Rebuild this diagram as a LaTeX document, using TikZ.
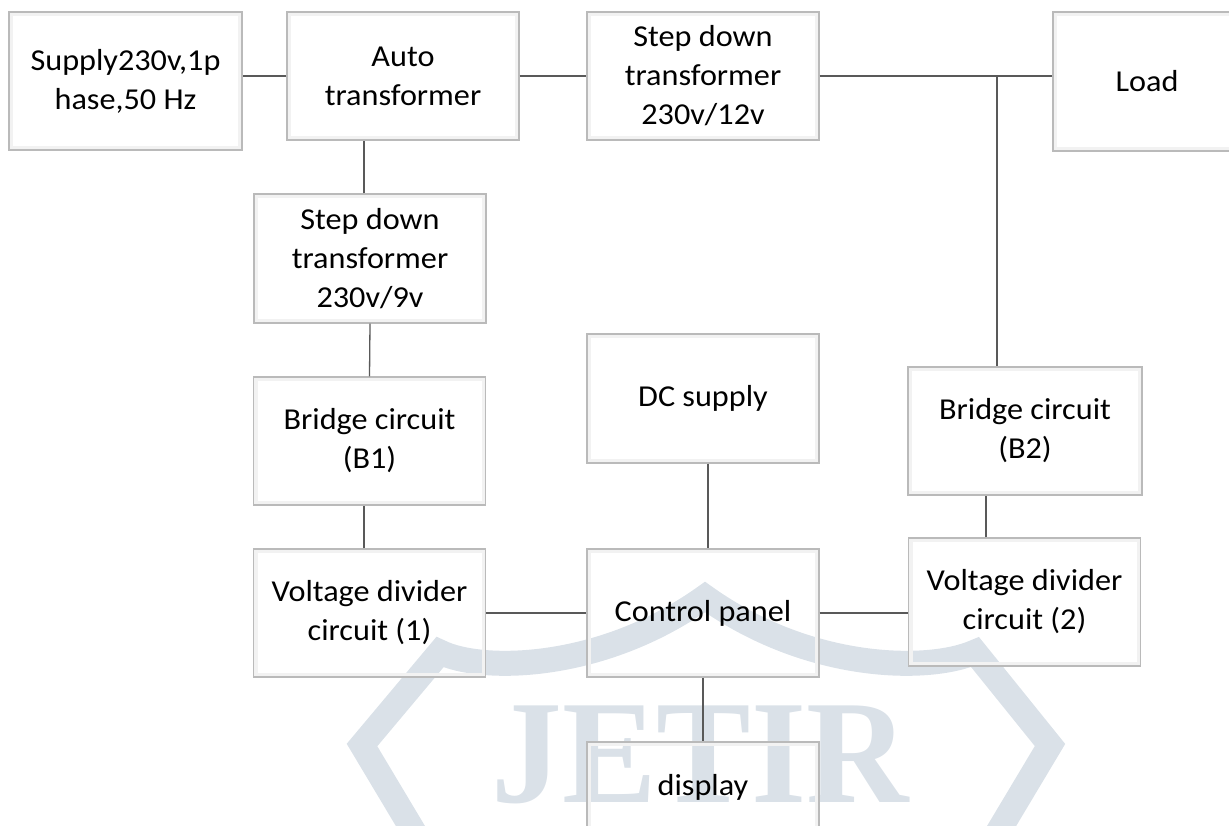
\documentclass[tikz,border=0pt]{standalone}
\usepackage{fontspec}
\setmainfont{Carlito}[FakeStretch=1.06]
\newfontfamily\wmfont{Liberation Serif}
\usepackage{tikz}
\usetikzlibrary{calc}
\definecolor{wmark}{HTML}{DAE1E8}
\definecolor{wire}{HTML}{595959}
\newcommand{\pxu}{0.02cm}

\begin{document}
\begin{tikzpicture}[
  x=\pxu, y=-\pxu,
  font=\fontsize{17.3}{22.2}\selectfont,
  every node/.style={align=center},
  blk/.style={draw=black!27,line width=1.2*\pxu,
    inner sep=0pt,minimum width=232*\pxu,minimum height=128*\pxu,
    append after command={\pgfextra{\draw[black!5,line width=4*\pxu]
      ([shift={(2.6,2.6)}]\tikzlastnode.north west) rectangle ([shift={(-2.6,-2.6)}]\tikzlastnode.south east);}}},
  link/.style={draw=wire,line width=1.3*\pxu},
  wmband/.style={draw=wmark,line width=25*\pxu,line join=miter,miter limit=4}
]
\useasboundingbox (0,0) rectangle (1229,825);

% Watermark
\draw[wmband] (420,842) -- (362,745) -- (440,652)
  .. controls (480,672) and (600,672) .. (705,597)
  .. controls (810,672) and (930,672) .. (975,652) -- (1050,745) -- (992,842);
\node[font=\wmfont\bfseries\fontsize{84}{84}\selectfont,text=wmark,anchor=base,inner sep=0pt]
  (wmtext) at (700,802) {\scalebox{0.96}[1]{JETIR}};

% Top row
\node[blk,minimum width=233*\pxu,minimum height=138*\pxu] (supply) at (125.5,81) {Supply230v,1p\\hase,50 Hz};
\node[blk] (auto) at (403,76) {Auto\\transformer};
\node[blk] (stepB) at (703,76) {Step down\\transformer\\230v/12v};
\node[blk,minimum width=188*\pxu,minimum height=139*\pxu] (load) at (1147,81.5) {Load};

% Left column
\node[blk,minimum height=129*\pxu] (stepA) at (370,258.5) {Step down\\transformer\\230v/9v};
\node[blk] (bridgeA) at (369.5,441) {Bridge circuit\\(B1)};
\node[blk] (divA) at (369.5,613) {Voltage divider\\circuit (1)};

% Middle column
\node[blk,minimum height=129*\pxu] (dcs) at (703,398.5) {DC supply};
\node[blk] (panel) at (703,613) {Control panel};
\node[blk,minimum height=90*\pxu] (disp) at (703,787) {display};

% Right column
\node[blk,minimum width=234*\pxu] (bridgeB) at (1025,431) {Bridge circuit\\(B2)};
\node[blk] (divB) at (1024.5,602) {Voltage divider\\circuit (2)};

% Connectors
\draw[link] (auto.west) -- (auto.west -| supply.east);
\draw[link] (auto.east) -- (stepB.west);
\draw[link] (stepB.east) -- (stepB.east -| load.west);
\coordinate (tap) at (997,76);
\draw[link] (tap) -- (tap |- bridgeB.north);
\draw[link] ($(stepA.north)+(-6,0)$) coordinate (a1) -- (a1 |- auto.south);
\draw[link] (stepA.south) -- (bridgeA.north);
\draw[link] ($(divA.north)+(-5.5,0)$) coordinate (a2) -- (a2 |- bridgeA.south);
\draw[link] ($(dcs.south)+(5,0)$) coordinate (a3) -- (a3 |- panel.north);
\draw[link] (panel.south) -- (disp.north);
\draw[link] (divA.east) -- (panel.west);
\draw[link] (panel.east) -- (panel.east -| divB.west);
\draw[link] ($(divB.north)+(-38.5,0)$) coordinate (a4) -- (a4 |- bridgeB.south);
\end{tikzpicture}
\end{document}
